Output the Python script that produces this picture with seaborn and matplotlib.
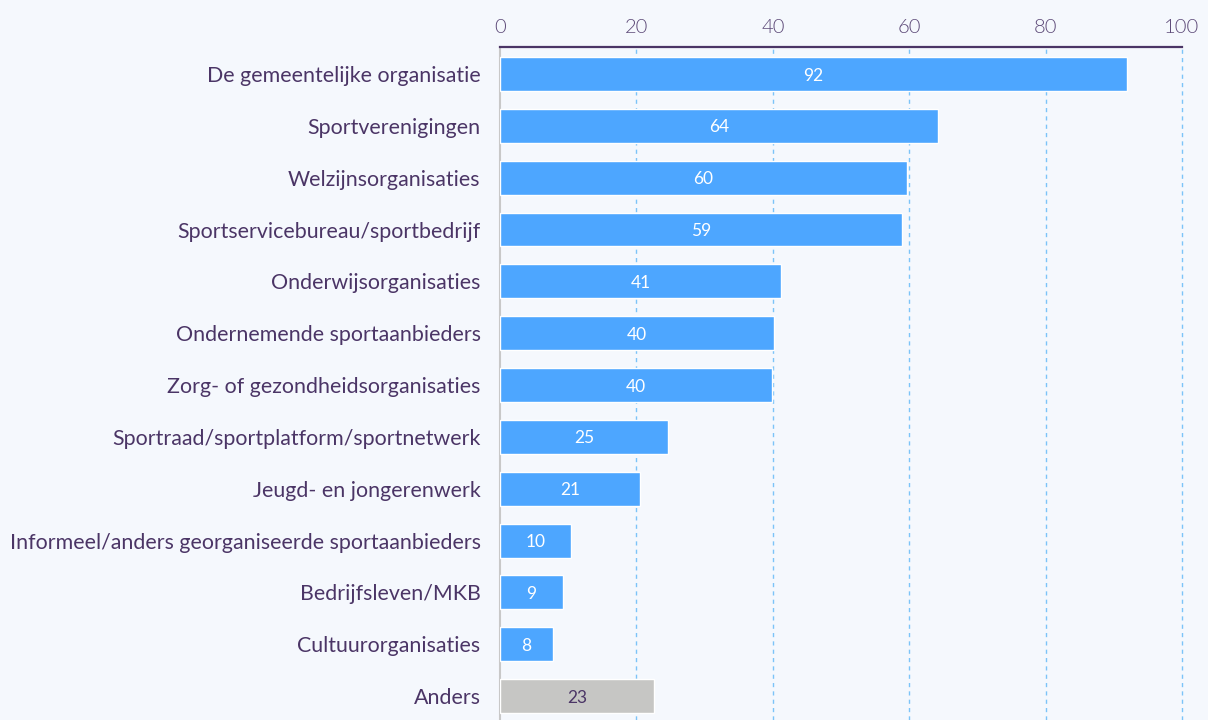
import matplotlib
matplotlib.use("Agg")
import matplotlib.pyplot as plt
import seaborn as sns
import pandas as pd

# Data
categories = [
    "De gemeentelijke organisatie",
    "Sportverenigingen",
    "Welzijnsorganisaties",
    "Sportservicebureau/sportbedrijf",
    "Onderwijsorganisaties",
    "Ondernemende sportaanbieders",
    "Zorg- of gezondheidsorganisaties",
    "Sportraad/sportplatform/sportnetwerk",
    "Jeugd- en jongerenwerk",
    "Informeel/anders georganiseerde sportaanbieders",
    "Bedrijfsleven/MKB",
    "Cultuurorganisaties",
    "Anders",
]
values = [91.9, 64.2, 59.7, 58.9, 41.2, 40.2, 39.9, 24.6, 20.6, 10.4, 9.2, 7.7, 22.6]
x_ticks = [0, 20, 40, 60, 80, 100]

df = pd.DataFrame({"categorie": categories, "waarde": values})

bg = "#f5f8fd"
purple = "#4b3566"
blue = "#4da6ff"
grey = "#c6c6c4"
colors = [grey if c == "Anders" else blue for c in categories]

sns.set_style("white")
plt.rcParams["font.family"] = ["Lato", "DejaVu Sans"]

fig = plt.figure(figsize=(12.08, 7.2), dpi=100, facecolor=bg)
ax = fig.add_axes([500 / 1208, 0, 682 / 1208, 1 - 47 / 720])
ax.set_facecolor(bg)

sns.barplot(data=df, x="waarde", y="categorie", hue="categorie",
            palette=colors, saturation=1, legend=False, width=0.654,
            ax=ax, zorder=3)

ax.set_xlim(0, 100)
ax.set_ylim(12.46, -0.52)
ax.xaxis.tick_top()
ax.set_xticks(x_ticks)
ax.tick_params(axis="x", length=0, pad=8, labelsize=14.5, labelcolor="#5d4a78")
for lbl in ax.get_xticklabels():
    lbl.set_fontweight(300)
ax.tick_params(axis="y", length=0, pad=14, labelsize=15.4, labelcolor=purple)
ax.set_xlabel("")
ax.set_ylabel("")

for t in x_ticks[1:]:
    ax.axvline(t, color="#7cc4f8", linestyle=(0, (3, 3)), linewidth=1,
               zorder=1, clip_on=False)

for s in ["right", "bottom"]:
    ax.spines[s].set_visible(False)
ax.spines["top"].set_color(purple)
ax.spines["top"].set_linewidth(1.6)
ax.spines["left"].set_color("#c8c8c8")
ax.spines["left"].set_linewidth(1.5)

for i, (c, v) in enumerate(zip(categories, values)):
    ax.text(v / 2, i + 0.03, f"{round(v)}", ha="center", va="center",
            fontsize=12.5, color=purple if c == "Anders" else "white", zorder=4)

fig.savefig("out.png", dpi=100, facecolor=bg)
